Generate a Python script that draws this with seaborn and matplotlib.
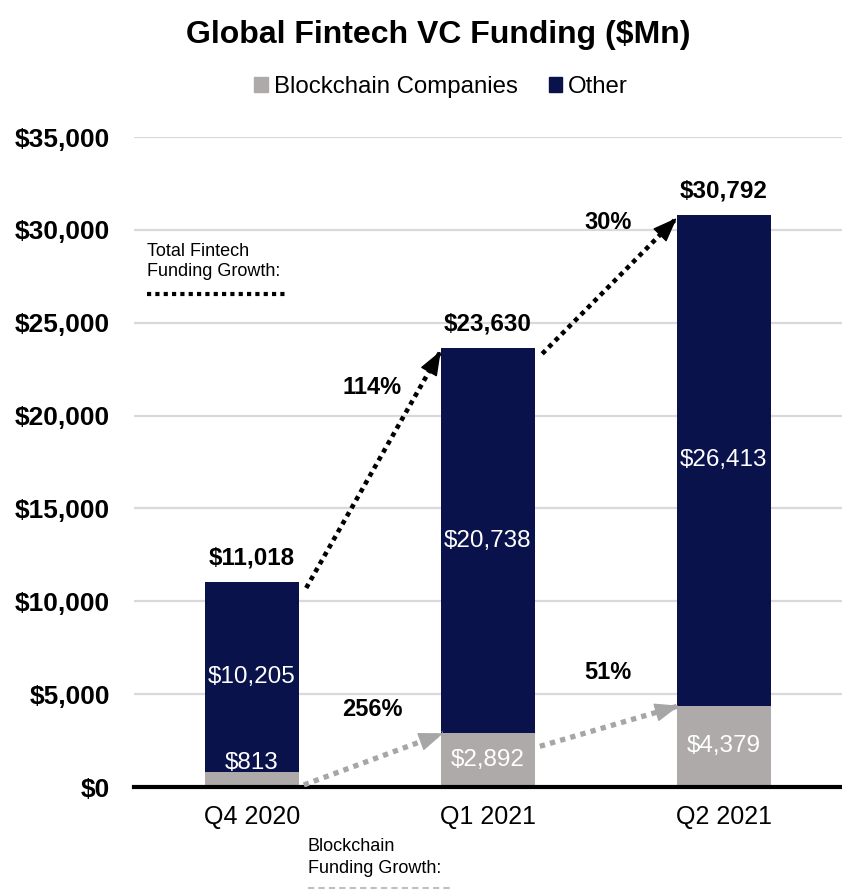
import matplotlib
matplotlib.use("Agg")
import matplotlib.pyplot as plt
import seaborn as sns
import pandas as pd
from matplotlib.patches import Patch

# data
quarters = ["Q4 2020", "Q1 2021", "Q2 2021"]
blockchain = [813, 2892, 4379]
other = [10205, 20738, 26413]
total_growth = ["114%", "30%"]
blockchain_growth = ["256%", "51%"]

totals = [b + o for b, o in zip(blockchain, other)]
df = pd.DataFrame({"quarter": quarters, "blockchain": blockchain,
                   "other": other, "total": totals})

NAVY = "#0A124B"
GRAY = "#AEAAAA"

sns.set_theme(style="white")
plt.rcParams["font.family"] = ["Liberation Sans", "DejaVu Sans"]
plt.rcParams["text.color"] = "black"
plt.rcParams["xtick.color"] = "black"
plt.rcParams["ytick.color"] = "black"

fig = plt.figure(figsize=(8.42, 8.9), dpi=100)
ax = fig.add_axes([0.159, 0.1157, 0.841, 0.7303])

# stacked bars: total in navy, blockchain part drawn over it in gray
sns.barplot(data=df, x="quarter", y="total", color=NAVY, width=0.4,
            saturation=1, linewidth=0, ax=ax, zorder=2)
sns.barplot(data=df, x="quarter", y="blockchain", color=GRAY, width=0.4,
            saturation=1, linewidth=0, ax=ax, zorder=3)

ax.set_xlim(-0.5, 2.5)
ax.set_ylim(0, 35000)
ax.set_yticks(range(0, 35001, 5000))
ax.set_yticklabels([f"${v:,}" for v in range(0, 35001, 5000)],
                   fontsize=19, fontweight="bold")
ax.tick_params(axis="y", length=0, pad=17)
ax.tick_params(axis="x", length=0, pad=13, labelsize=18)
ax.set_xlabel("")
ax.set_ylabel("")
ax.yaxis.grid(True, color="#D9D9D9", lw=1.6, zorder=0)
ax.set_axisbelow(True)
for s in ["top", "right", "left"]:
    ax.spines[s].set_visible(False)
ax.spines["bottom"].set_color("black")
ax.spines["bottom"].set_linewidth(3)
ax.spines["bottom"].set_zorder(5)

# segment labels
for i in range(len(quarters)):
    yb = max(blockchain[i] / 2, 1300)
    ax.text(i, yb, f"${blockchain[i]:,}", ha="center", va="center",
            color="white", fontsize=17.5, zorder=6)
    ax.text(i, blockchain[i] + other[i] / 2, f"${other[i]:,}", ha="center",
            va="center", color="white", fontsize=17.5, zorder=6)
    ax.annotate(f"${totals[i]:,}", (i, totals[i]), xytext=(0, 9),
                textcoords="offset points", ha="center", va="bottom",
                fontsize=17.5, fontweight="bold")


def dotted_arrow(x0, y0, x1, y1, color, lw):
    ax.plot([x0, x1], [y0, y1], color=color, lw=lw, linestyle=(0, (1, 1)),
            solid_capstyle="butt", dash_capstyle="butt", zorder=7)
    ax.annotate("", xy=(x1, y1),
                xytext=(x1 - (x1 - x0) * 0.02, y1 - (y1 - y0) * 0.02),
                arrowprops=dict(arrowstyle="-|>,head_length=1.3,head_width=0.5",
                                color=color, lw=1, shrinkA=0, shrinkB=0),
                zorder=8)


# growth arrows and labels
total_label_y = [21500, 30420]
chain_label_y = [4150, 6190]
for i in range(len(quarters) - 1):
    dotted_arrow(i + 0.23, totals[i] - 300, i + 0.8, totals[i + 1] - 150,
                 "black", 3.3)
    ax.text(i + 0.51, total_label_y[i], total_growth[i], ha="center",
            va="center", fontsize=17, fontweight="bold")
    dotted_arrow(i + 0.22, max(blockchain[i] - 700, 0), i + 0.81,
                 blockchain[i + 1], "#A6A6A6", 3.8)
    ax.text(i + 0.51, chain_label_y[i], blockchain_growth[i], ha="center",
            va="center", fontsize=17, fontweight="bold")

# in-chart legend notes for the arrows
ax.text(-0.445, 29300, "Total Fintech\nFunding Growth:", ha="left", va="top",
        fontsize=13, linespacing=1.2)
ax.plot([-0.445, 0.153], [26540, 26540], color="black", lw=3,
        linestyle=(0, (1, 1)))
ax.text(0.237, -2750, "Blockchain\nFunding Growth:", ha="left", va="top",
        fontsize=13, linespacing=1.35, clip_on=False)
ax.plot([0.237, 0.847], [-5420, -5420], color="#BFBFBF", lw=1.5,
        linestyle=(0, (3, 2)), clip_on=False)

fig.text(0.52, 0.961, "Global Fintech VC Funding ($Mn)", ha="center",
         va="center", fontsize=23, fontweight="bold")
fig.legend(handles=[Patch(color=GRAY, label="Blockchain Companies"),
                    Patch(color=NAVY, label="Other")],
           loc="center", bbox_to_anchor=(0.524, 0.902), ncol=2, frameon=False,
           fontsize=17.3, handlelength=0.55, handleheight=0.55,
           handletextpad=0.25, columnspacing=1.3)

plt.savefig("out.png", dpi=100)
